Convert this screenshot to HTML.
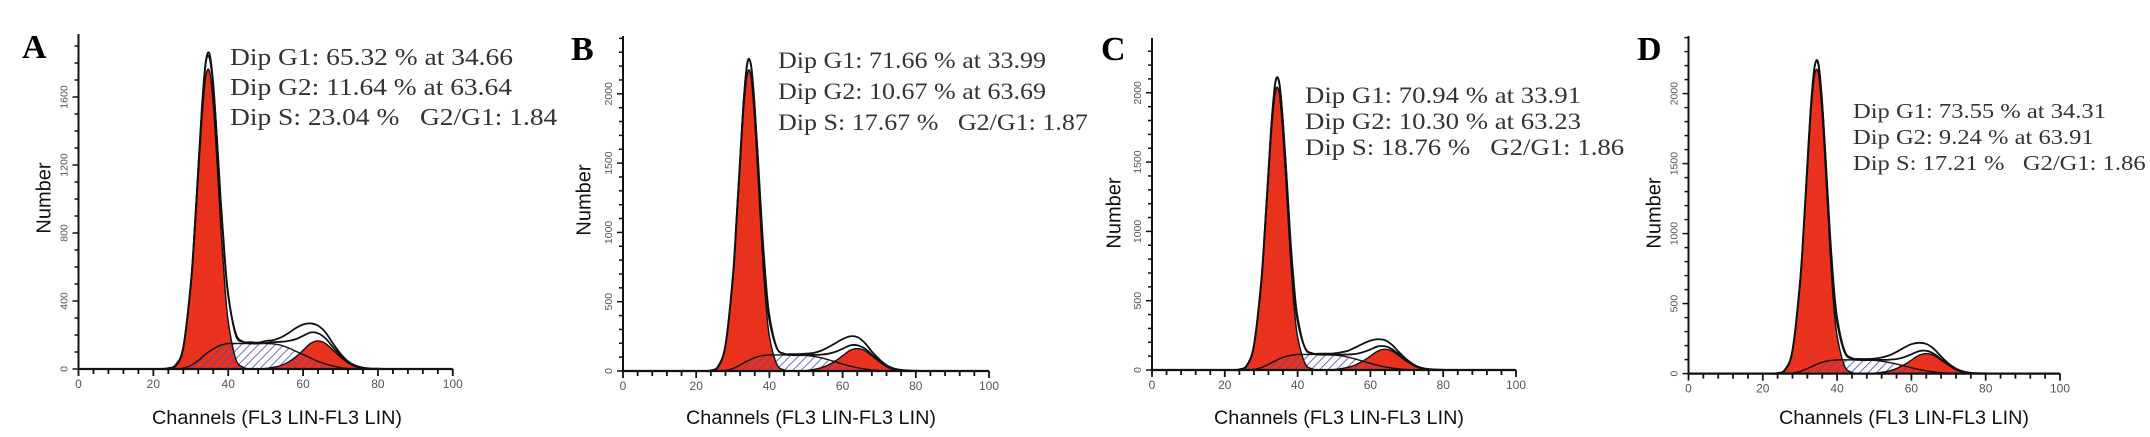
<!DOCTYPE html>
<html><head><meta charset="utf-8"><style>
html,body{margin:0;padding:0;background:#fff;}
svg{display:block;}
</style></head><body>
<svg id="fig" width="2150" height="437" viewBox="0 0 2150 437" xmlns="http://www.w3.org/2000/svg">
<defs>
<pattern id="hatch" patternUnits="userSpaceOnUse" width="6" height="6" patternTransform="rotate(45)">
<line x1="0" y1="0" x2="0" y2="6" stroke="#4a4aa8" stroke-width="1.6"/>
</pattern>
</defs>
</svg>
<script>
const channels=[22,24,26,28,30,31,32,33,34,35,36,37,38,39,40,42,44,46,48,50,52,54,56,58,60,62,64,66,68,70,72,74,76,78,80,82];
const xTickLabels=[0,20,40,60,80,100];
const yTickLabelsA=[0,400,800,1200,1600];
const yTickLabelsB=[0,500,1000,1500,2000];
const yTickLabelsC=[0,500,1000,1500,2000];
const yTickLabelsD=[0,500,1000,1500,2000];

const g1A=[0,0,20,120,480,780,1130,1480,1720,1750,1560,1220,840,520,280,60,10,0,0,0,0,0,0,0,0,0,0,0,0,0,0,0,0,0,0,0];
const sA=[0,0,0,5,20,35,50,70,88,104,118,130,140,146,150,150,150,150,150,150,148,140,125,105,85,65,45,30,18,8,3,0,0,0,0,0];
const g2A=[0,0,0,0,0,0,0,0,0,0,0,0,0,0,0,0,0,0,0,3,10,20,40,70,110,150,165,150,110,70,35,15,5,0,0,0];
const rawA=[0,5,25,130,500,810,1170,1530,1800,1830,1660,1350,990,680,440,200,160,158,155,165,170,185,210,240,262,268,255,215,150,90,45,20,8,3,2,0];

const g1B=[0,0,30,180,650,1050,1480,1900,2150,2120,1800,1350,880,500,250,50,8,0,0,0,0,0,0,0,0,0,0,0,0,0,0,0,0,0,0,0];
const sB=[0,0,0,5,18,30,42,58,72,85,96,104,110,114,116,116,116,115,114,112,106,96,82,66,50,36,24,15,8,4,1,0,0,0,0,0];
const g2B=[0,0,0,0,0,0,0,0,0,0,0,0,0,0,0,0,0,0,0,3,10,22,42,72,110,148,162,148,110,68,32,12,4,0,0,0];
const rawB=[0,5,35,190,680,1090,1530,1960,2230,2200,1900,1480,1030,660,400,170,125,122,122,125,130,145,170,200,230,250,245,205,140,85,42,18,8,4,2,0];

const g1C=[0,0,28,170,610,980,1390,1780,2020,1990,1690,1270,830,470,240,50,8,0,0,0,0,0,0,0,0,0,0,0,0,0,0,0,0,0,0,0];
const sC=[0,0,0,5,17,28,40,55,68,80,91,99,105,109,112,112,112,111,110,108,102,92,78,63,48,34,22,14,8,4,1,0,0,0,0,0];
const g2C=[0,0,0,0,0,0,0,0,0,0,0,0,0,0,0,0,0,0,0,3,10,20,38,66,100,136,149,136,100,62,30,12,4,0,0,0];
const rawC=[0,5,33,180,640,1020,1440,1840,2090,2060,1780,1390,960,620,380,160,120,118,118,120,128,140,165,190,212,222,215,180,125,75,38,16,7,3,2,0];

const g1D=[0,0,25,160,620,1010,1450,1880,2140,2140,1850,1400,920,520,270,55,8,0,0,0,0,0,0,0,0,0,0,0,0,0,0,0,0,0,0,0];
const sD=[0,0,0,4,15,25,36,48,60,71,81,88,93,96,98,98,98,97,96,94,89,80,68,55,42,30,20,12,7,3,1,0,0,0,0,0];
const g2D=[0,0,0,0,0,0,0,0,0,0,0,0,0,0,0,0,0,0,0,3,9,19,36,62,96,130,143,130,96,60,28,11,4,0,0,0];
const rawD=[0,4,30,170,650,1040,1500,1930,2200,2200,1920,1500,1040,660,400,165,110,105,104,107,115,130,155,185,210,220,212,178,122,72,36,15,6,3,2,0];

const statsA=["Dip G1: 65.32 % at 34.66","Dip G2: 11.64 % at 63.64","Dip S: 23.04 %   G2/G1: 1.84"];
const statsB=["Dip G1: 71.66 % at 33.99","Dip G2: 10.67 % at 63.69","Dip S: 17.67 %   G2/G1: 1.87"];
const statsC=["Dip G1: 70.94 % at 33.91","Dip G2: 10.30 % at 63.23","Dip S: 18.76 %   G2/G1: 1.86"];
const statsD=["Dip G1: 73.55 % at 34.31","Dip G2: 9.24 % at 63.91","Dip S: 17.21 %   G2/G1: 1.86"];

const panels=[
 {id:'a',letter:'A',lx:22,ly:58,x0:78.5,x100:452.8,y0:369,pxPer:0.17,yTop:34,yStep:400,ticks:yTickLabelsA,g1:g1A,s:sA,g2:g2A,raw:rawA,stats:statsA,tx:230,ty:65,tdy:30,fs:24,tw:283,numX:45,numY:198,chX:277},
 {id:'b',letter:'B',lx:571,ly:60,x0:623,x100:989,y0:371,pxPer:0.1386,yTop:36,yStep:500,ticks:yTickLabelsB,g1:g1B,s:sB,g2:g2B,raw:rawB,stats:statsB,tx:778,ty:68,tdy:31,fs:23,tw:268,numX:585,numY:200,chX:811},
 {id:'c',letter:'C',lx:1101,ly:60,x0:1152,x100:1516,y0:370,pxPer:0.1386,yTop:38,yStep:500,ticks:yTickLabelsC,g1:g1C,s:sC,g2:g2C,raw:rawC,stats:statsC,tx:1305,ty:103,tdy:26,fs:23,tw:276,numX:1115,numY:213,chX:1339},
 {id:'d',letter:'D',lx:1637,ly:60,x0:1688.5,x100:2060,y0:373.6,pxPer:0.14,yTop:36,yStep:500,ticks:yTickLabelsD,g1:g1D,s:sD,g2:g2D,raw:rawD,stats:statsD,tx:1853,ty:118,tdy:26,fs:21.5,tw:253,numX:1655,numY:213,chX:1904}
];

const NS='http://www.w3.org/2000/svg';
const svg=document.getElementById('fig');
function mk(tag,attrs,parent){const e=document.createElementNS(NS,tag);for(const k in attrs)e.setAttribute(k,attrs[k]);(parent||svg).appendChild(e);return e;}
function smooth(pts){
 let d='M'+pts[0][0].toFixed(2)+','+pts[0][1].toFixed(2);
 for(let i=0;i<pts.length-1;i++){
  const p0=pts[i-1]||pts[i],p1=pts[i],p2=pts[i+1],p3=pts[i+2]||p2;
  const c1=[p1[0]+(p2[0]-p0[0])/6,p1[1]+(p2[1]-p0[1])/6];
  const c2=[p2[0]-(p3[0]-p1[0])/6,p2[1]-(p3[1]-p1[1])/6];
  d+='C'+c1[0].toFixed(2)+','+c1[1].toFixed(2)+' '+c2[0].toFixed(2)+','+c2[1].toFixed(2)+' '+p2[0].toFixed(2)+','+p2[1].toFixed(2);
 }
 return d;
}
panels.forEach(p=>{
 const g=mk('g',{});
 
 
 const X=v=>p.x0+(p.x100-p.x0)*v/100;
 const Y=v=>Math.min(p.y0,p.y0-v*p.pxPer);
 const line=arr=>smooth(channels.map((c,i)=>[X(c),Y(arr[i])]));
 const area=arr=>line(arr)+'L'+X(channels[channels.length-1])+','+p.y0+'L'+X(channels[0])+','+p.y0+'Z';
 const fit=channels.map((c,i)=>p.g1[i]+p.s[i]+p.g2[i]);
 let e=mk('path',{d:area(p.g1),fill:'#e8321e',stroke:'none'},g);
 
 
 e=mk('path',{d:area(p.g2),fill:'#e8321e',stroke:'none'},g);
 
 
 e=mk('path',{d:area(p.s),fill:'url(#hatch)',stroke:'none'},g);
 
 
 [p.g1,p.g2,p.s].forEach(a=>{mk('path',{d:line(a),fill:'none',stroke:'#111','stroke-width':1.4},g);});
 e=mk('path',{d:line(fit),fill:'none',stroke:'#111','stroke-width':1.8},g);
 
 
 e=mk('path',{d:line(p.raw),fill:'none',stroke:'#111','stroke-width':1.8},g);
 
 
 e=mk('line',{x1:p.x0,y1:p.y0,x2:p.x100,y2:p.y0,stroke:'#111','stroke-width':2.2},g);
 
 
 e=mk('line',{x1:p.x0,y1:p.y0,x2:p.x0,y2:p.yTop,stroke:'#111','stroke-width':2},g);
 
 
 for(let v=0;v<=100;v+=4){mk('line',{x1:X(v),y1:p.y0,x2:X(v),y2:p.y0+(v%20===0?7:5),stroke:'#111','stroke-width':1.8},g);}
 xTickLabels.forEach(v=>{
  const t=mk('text',{x:X(v),y:p.y0+19,'font-family':'Liberation Sans, sans-serif','font-size':12,fill:'#555','text-anchor':'middle'},g);
  
  
  t.textContent=v;
 });
 for(let v=0;Y(v)>=p.yTop;v+=100){const mj=v%p.yStep===0;mk('line',{x1:p.x0,y1:Y(v),x2:p.x0-(mj?6:4),y2:Y(v),stroke:'#111','stroke-width':1.5},g);}
 p.ticks.forEach(v=>{
  const yy=Y(v);
  const t=mk('text',{x:p.x0-11,y:yy,transform:'rotate(-90 '+(p.x0-11)+' '+yy+')','font-family':'Liberation Sans, sans-serif','font-size':10.5,fill:'#555','text-anchor':'middle'},g);
  
  
  t.textContent=v;
 });
 let t=mk('text',{x:p.lx,y:p.ly,'font-family':'Liberation Serif, serif','font-size':34,'font-weight':'bold',fill:'#000'},g);
 
 
 t.textContent=p.letter;
 t=mk('text',{x:p.chX,y:424,'font-family':'Liberation Sans, sans-serif','font-size':19.5,fill:'#111','text-anchor':'middle',textLength:250,lengthAdjust:'spacingAndGlyphs'},g);
 
 
 t.textContent='Channels (FL3 LIN-FL3 LIN)';
 t=mk('text',{x:p.numX,y:p.numY,transform:'rotate(-90 '+p.numX+' '+p.numY+')','font-family':'Liberation Sans, sans-serif','font-size':20,fill:'#111','text-anchor':'middle','dominant-baseline':'middle'},g);
 
 
 t.textContent='Number';
 const lines=[];
 p.stats.forEach((s,i)=>{
  const tt=mk('text',{x:p.tx,y:p.ty+i*p.tdy,'font-family':'Liberation Serif, serif','font-size':p.fs,fill:'#333','xml:space':'preserve'},g);
  
  
  tt.style.whiteSpace='pre';
  tt.textContent=s;
  lines.push(tt);
 });
 const nat=lines[0].getComputedTextLength();
 if(nat>0){const f=p.tw/nat;lines.forEach(tt=>{tt.setAttribute('textLength',(tt.getComputedTextLength()*f).toFixed(1));tt.setAttribute('lengthAdjust','spacingAndGlyphs');});}
});
</script>
</body></html>
